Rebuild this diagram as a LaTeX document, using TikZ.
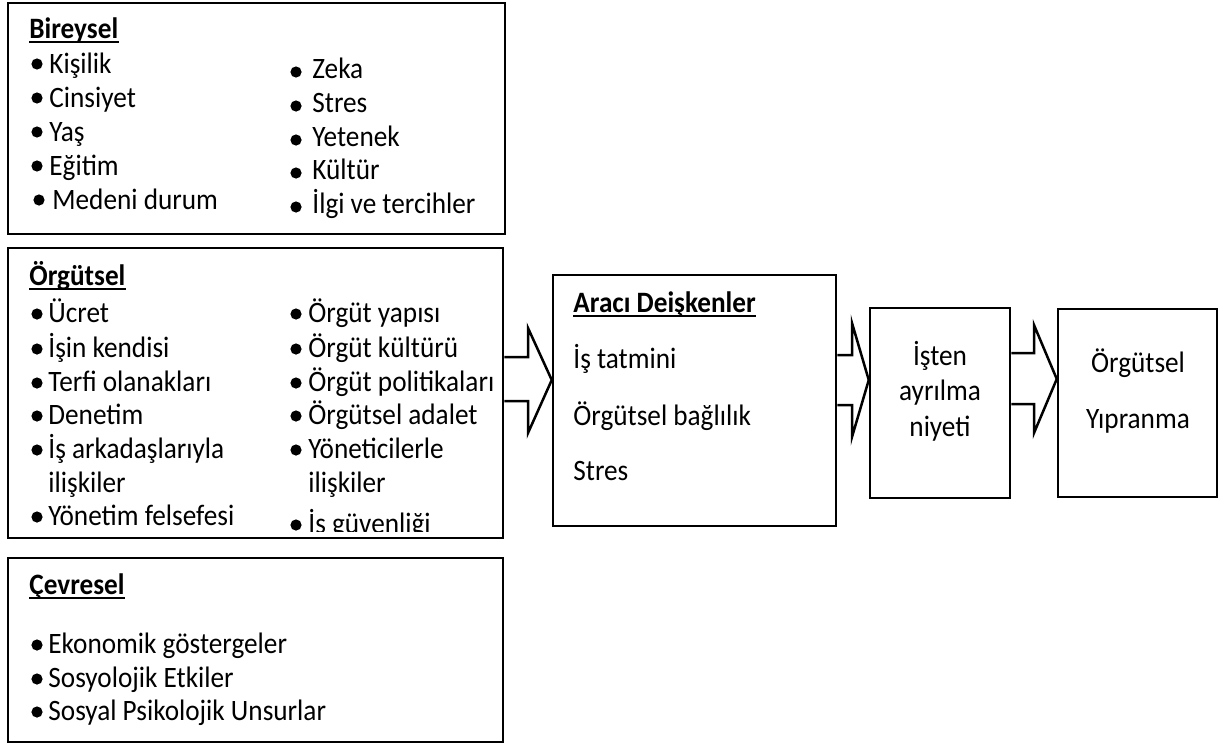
\documentclass[tikz,border=0pt]{standalone}
\usepackage{fontspec}
\setmainfont{Carlito}[FakeStretch=0.92]
\usetikzlibrary{calc,fit}
\tikzset{
  box/.style={draw, line width=1.25pt, inner sep=0pt},
  txt/.style={anchor=base west, inner sep=0pt, font=\fontsize{14.8}{17}\selectfont},
  ctxt/.style={anchor=base, inner sep=0pt, font=\fontsize{14.8}{17}\selectfont},
  head/.style={txt, font=\fontsize{14.8}{17}\selectfont\bfseries},
  bul/.style={circle, fill, inner sep=0pt, minimum size=5.6pt},
  blk/.style={draw, line width=1.25pt, line join=miter},
  uline/.style={line width=1pt},
}
\newcommand{\bitem}[6]{%
  \node[bul] (#1b) at (#2,#4-#6) {};
  \node[txt] (#1) at (#3,#4) {#5};
}
\newcommand{\uln}[1]{%
  \draw[uline] ($(#1.base west)+(0,4)$) -- ($(#1.base east)+(0,4)$);
}
\begin{document}
\begin{tikzpicture}[x=0.5pt,y=-0.5pt]
\useasboundingbox (0,0) rectangle (1219,744);
% box corners
\coordinate (b1nw) at (8,3);     \coordinate (b1se) at (505,234);
\coordinate (b2nw) at (8,248);   \coordinate (b2se) at (503,538);
\coordinate (b3nw) at (8,558);   \coordinate (b3se) at (503,742);
\coordinate (arnw) at (553,275); \coordinate (arse) at (836,526);
\coordinate (isnw) at (870,308); \coordinate (isse) at (1010,498);
\coordinate (ypnw) at (1058,309);\coordinate (ypse) at (1217,497);
\node[box, fit=(b1nw)(b1se)] (b1) {};
\node[box, fit=(b2nw)(b2se)] (b2) {};
\node[box, fit=(b3nw)(b3se)] (b3) {};
\node[box, fit=(arnw)(arse)] (ar) {};
\node[box, fit=(isnw)(isse)] (is) {};
\node[box, fit=(ypnw)(ypse)] (yp) {};

% Bireysel
\node[head] (h1) at (29,38) {Bireysel};
\uln{h1}
\bitem{k1}{37}{49}{73}{Kişilik}{9}
\bitem{k2}{37}{49}{107}{Cinsiyet}{9}
\bitem{k3}{37}{49}{141}{Yaş}{9}
\bitem{k4}{37}{49}{175}{Eğitim}{9}
\bitem{k5}{39}{52}{209}{Medeni durum}{9}
\bitem{r1}{296}{312}{78}{Zeka}{6}
\bitem{r2}{296}{312}{112}{Stres}{6}
\bitem{r3}{296}{312}{146}{Yetenek}{6}
\bitem{r4}{296}{312}{179}{Kültür}{6}
\bitem{r5}{296}{312}{213}{İlgi ve tercihler}{6}

% Örgütsel
\node[head] (h2) at (29,285) {Örgütsel};
\uln{h2}
\bitem{o1}{37}{48}{322}{Ücret}{8}
\bitem{o2}{37}{48}{357}{İşin kendisi}{8}
\bitem{o3}{37}{48}{391}{Terfi olanakları}{8}
\bitem{o4}{37}{48}{424}{Denetim}{8}
\bitem{o5}{37}{48}{458}{İş arkadaşlarıyla}{8}
\node[txt] (o6) at (48,492) {ilişkiler};
\bitem{o7}{37}{48}{525}{Yönetim felsefesi}{8}
\bitem{p1}{296}{308}{322}{Örgüt yapısı}{8}
\bitem{p2}{296}{308}{357}{Örgüt kültürü}{8}
\bitem{p3}{296}{308}{391}{Örgüt politikaları}{8}
\bitem{p4}{296}{308}{424}{Örgütsel adalet}{8}
\bitem{p5}{296}{308}{458}{Yöneticilerle}{8}
\node[txt] (p6) at (308,492) {ilişkiler};
\begin{scope}
  \clip (8,248) rectangle (503,531);
  \bitem{p7}{296}{308}{533}{İş güvenliği}{8}
\end{scope}

% Çevresel
\node[head] (h3) at (29,594) {Çevresel};
\uln{h3}
\bitem{c1}{37}{48}{653}{Ekonomik göstergeler}{8}
\bitem{c2}{37}{48}{687}{Sosyolojik Etkiler}{8}
\bitem{c3}{37}{48}{720}{Sosyal Psikolojik Unsurlar}{8}

% Aracı Değişkenler
\node[head] (h4) at (573,312) {Aracı Deişkenler};
\uln{h4}
\node[txt] (a1) at (573,368) {İş tatmini};
\node[txt] (a2) at (573,425) {Örgütsel bağlılık};
\node[txt] (a3) at (573,480) {Stres};

% İşten ayrılma niyeti
\node[ctxt] (i1) at (940,365) {İşten};
\node[ctxt] (i2) at (940,400.5) {ayrılma};
\node[ctxt] (i3) at (940,436) {niyeti};

% Örgütsel Yıpranma
\node[ctxt] (y1) at (1138,372) {Örgütsel};
\node[ctxt] (y2) at (1138,428) {Yıpranma};

% block arrows
\draw[blk] (b2.east |- 0,357) -- (528,357) -- (528,328) -- (ar.west |- 0,380)
  -- (528,433) -- (528,401) -- (b2.east |- 0,401);
\draw[blk] (ar.east |- 0,355) -- (852,355) -- (852,323) -- (is.west |- 0,380)
  -- (852,437) -- (852,405) -- (ar.east |- 0,405);
\draw[blk] (is.east |- 0,353) -- (1034,353) -- (1034,325) -- (yp.west |- 0,379)
  -- (1034,433) -- (1034,404) -- (is.east |- 0,404);
\end{tikzpicture}
\end{document}
